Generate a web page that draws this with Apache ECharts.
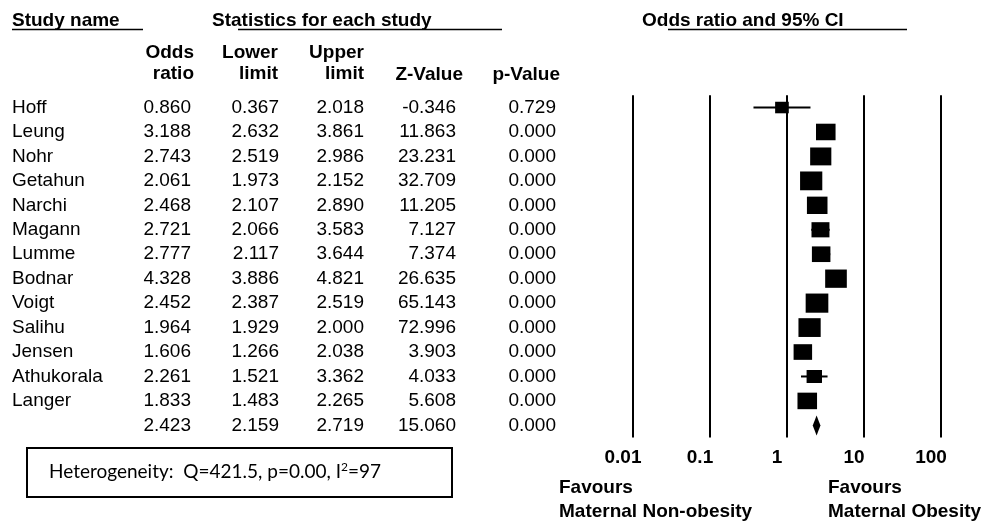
<!DOCTYPE html>
<html>
<head>
<meta charset="utf-8">
<script src="https://cdn.jsdelivr.net/npm/echarts@6/dist/echarts.min.js"></script>
<style>
  html, body { margin: 0; padding: 0; background: #fff; }
  #chart { width: 995px; height: 524px; }
</style>
</head>
<body>
<div id="chart"></div>
<script>
// Study-level results (odds ratio, 95% CI, Z, p)
const studies = ['Hoff', 'Leung', 'Nohr', 'Getahun', 'Narchi', 'Magann', 'Lumme', 'Bodnar', 'Voigt', 'Salihu', 'Jensen', 'Athukorala', 'Langer'];
const oddsRatio = [0.860, 3.188, 2.743, 2.061, 2.468, 2.721, 2.777, 4.328, 2.452, 1.964, 1.606, 2.261, 1.833];
const lowerLimit = [0.367, 2.632, 2.519, 1.973, 2.107, 2.066, 2.117, 3.886, 2.387, 1.929, 1.266, 1.521, 1.483];
const upperLimit = [2.018, 3.861, 2.986, 2.152, 2.890, 3.583, 3.644, 4.821, 2.519, 2.000, 2.038, 3.362, 2.265];
const zValue = [-0.346, 11.863, 23.231, 32.709, 11.205, 7.127, 7.374, 26.635, 65.143, 72.996, 3.903, 4.033, 5.608];
const pValue = [0.729, 0.000, 0.000, 0.000, 0.000, 0.000, 0.000, 0.000, 0.000, 0.000, 0.000, 0.000, 0.000];
// Relative study weights (%), used for the square areas
const relWeight = [3.7, 7.6, 8.9, 9.8, 8.4, 6.4, 6.8, 9.3, 10.2, 9.8, 6.8, 4.7, 7.6];

// Pooled estimate: OR, lower, upper, Z, p
const pooledStats = [2.423, 2.159, 2.719, 15.060, 0.000];

// Axis tick labels of the log scale
const axisTicks = ['0.01', '0.1', '1', '10', '100'];

const FONT = '"Liberation Sans", Arial, Helvetica, sans-serif';
const TXT = '#000';

const nRows = studies.length + 1;
const rowKeys = Array.from({ length: nRows }, (_, i) => String(i));

const colValues = [
  oddsRatio.concat(pooledStats[0]),
  lowerLimit.concat(pooledStats[1]),
  upperLimit.concat(pooledStats[2]),
  zValue.concat(pooledStats[3]),
  pValue.concat(pooledStats[4])
];

const GRID_LEFT = 633;
const colRight = [191, 279, 364, 456, 556];

function columnAxis(values, rightEdge) {
  return {
    type: 'category', gridIndex: 0, inverse: true, data: rowKeys,
    position: 'left', offset: GRID_LEFT - rightEdge,
    axisLine: { show: false }, axisTick: { show: false }, splitLine: { show: false },
    axisLabel: {
      interval: 0, margin: 0, align: 'right', fontSize: 19, fontFamily: FONT, color: TXT,
      formatter: (v, i) => values[i].toFixed(3)
    }
  };
}

const yAxes = [{
  type: 'category', gridIndex: 0, inverse: true, data: rowKeys,
  position: 'left', offset: GRID_LEFT - 12,
  axisLine: { show: false }, axisTick: { show: false }, splitLine: { show: false },
  axisLabel: {
    interval: 0, margin: 0, align: 'left', fontSize: 19, fontFamily: FONT, color: TXT,
    formatter: (v, i) => studies[i] || ''
  }
}].concat(colValues.map((vals, k) => columnAxis(vals, colRight[k])));

const studyData = studies.map((s, i) => [oddsRatio[i], lowerLimit[i], upperLimit[i], i, relWeight[i]]);
const pooledData = [[pooledStats[0], pooledStats[1], pooledStats[2], studies.length]];

function renderStudy(params, api) {
  const row = api.value(3);
  const pOr = api.coord([api.value(0), row]);
  const pLo = api.coord([api.value(1), row]);
  const pHi = api.coord([api.value(2), row]);
  const s = Math.sqrt(api.value(4));
  const w = 7.1 * s, h = 6.0 * s;
  return {
    type: 'group',
    children: [
      { type: 'line', shape: { x1: pLo[0], y1: pLo[1], x2: pHi[0], y2: pHi[1] },
        style: { stroke: '#000', lineWidth: 2 } },
      { type: 'rect', shape: { x: pOr[0] - w / 2, y: pOr[1] - h / 2, width: w, height: h },
        style: { fill: '#000' } }
    ]
  };
}

function renderPooled(params, api) {
  const row = api.value(3);
  const pOr = api.coord([api.value(0), row]);
  const pLo = api.coord([api.value(1), row]);
  const pHi = api.coord([api.value(2), row]);
  const half = 10;
  return {
    type: 'polygon',
    shape: { points: [[pLo[0], pOr[1]], [pOr[0], pOr[1] - half], [pHi[0], pOr[1]], [pOr[0], pOr[1] + half]] },
    style: { fill: '#000' }
  };
}

function headerText(x, y, text, align) {
  return {
    type: 'text', x: x, y: y,
    style: { text: text, fontSize: 19, fontWeight: 'bold', fontFamily: FONT, fill: TXT,
      textAlign: align || 'left', textVerticalAlign: 'middle' }
  };
}
function underline(x1, x2, y) {
  return { type: 'line', shape: { x1: x1, y1: y, x2: x2, y2: y }, style: { stroke: '#000', lineWidth: 1.5 } };
}

const chart = echarts.init(document.getElementById('chart'), null, { renderer: 'canvas' });

chart.setOption({
  backgroundColor: '#fff',
  animation: false,
  grid: { left: GRID_LEFT, width: 308, top: 95.3, height: 342.3, containLabel: false },
  xAxis: {
    type: 'log', logBase: 10, min: 0.01, max: 100,
    axisLine: { show: false }, axisTick: { show: false },
    splitLine: { show: true, lineStyle: { color: '#000', width: 2 } },
    axisLabel: {
      margin: 11, fontSize: 19, fontWeight: 'bold', fontFamily: FONT, color: TXT,
      padding: [0, 20, 0, 0],
      formatter: function (v) {
        const idx = Math.round(Math.log10(v)) + 2;
        return axisTicks[idx] !== undefined ? axisTicks[idx] : '';
      }
    }
  },
  yAxis: yAxes,
  series: [
    { type: 'custom', xAxisIndex: 0, yAxisIndex: 0, renderItem: renderStudy, data: studyData,
      encode: { x: [0, 1, 2], y: 3 }, clip: false },
    { type: 'custom', xAxisIndex: 0, yAxisIndex: 0, renderItem: renderPooled, data: pooledData,
      encode: { x: [0, 1, 2], y: 3 }, clip: false }
  ],
  graphic: [
    headerText(12, 21, 'Study name'),
    underline(12, 143, 29.5),
    headerText(212, 21, 'Statistics for each study'),
    underline(238, 502, 29.5),
    headerText(642, 21, 'Odds ratio and 95% CI'),
    underline(668, 907, 29.5),

    headerText(194, 53, 'Odds', 'right'),
    headerText(194, 74, 'ratio', 'right'),
    headerText(278, 53, 'Lower', 'right'),
    headerText(278, 74, 'limit', 'right'),
    headerText(364, 53, 'Upper', 'right'),
    headerText(364, 74, 'limit', 'right'),
    headerText(463, 75, 'Z-Value', 'right'),
    headerText(560, 75, 'p-Value', 'right'),

    { type: 'rect', shape: { x: 27, y: 448, width: 425, height: 49 },
      style: { fill: 'none', stroke: '#000', lineWidth: 2 } },
    { type: 'text', x: 49, y: 472,
      style: {
        text: 'Heterogeneity:  Q=421.5, p=0.00, I{sup|2}=97',
        fontSize: 19, fontFamily: 'Lato, "Open Sans", sans-serif', fill: TXT,
        textAlign: 'left', textVerticalAlign: 'middle',
        rich: { sup: { fontSize: 12, fontFamily: 'Lato, "Open Sans", sans-serif', fill: TXT, verticalAlign: 'top', lineHeight: 22 } }
      } },

    headerText(559, 488, 'Favours'),
    headerText(559, 512, 'Maternal Non-obesity'),
    headerText(828, 488, 'Favours'),
    headerText(828, 512, 'Maternal Obesity')
  ]
});
</script>
</body>
</html>
